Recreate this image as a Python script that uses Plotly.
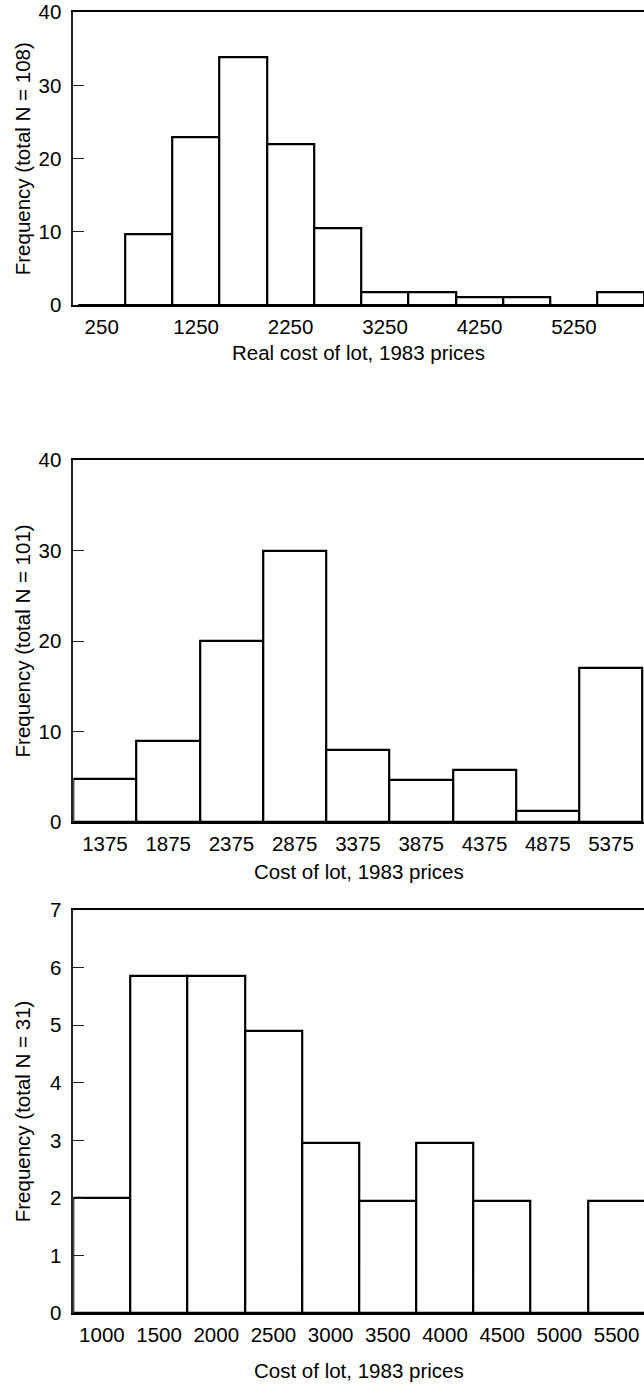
import plotly.graph_objects as go

# ---- data ----
p1_bins = [250, 750, 1250, 1750, 2250, 2750, 3250, 3750, 4250, 4750, 5250, 5750]
p1_freq = [0, 9.7, 22.9, 33.8, 22, 10.5, 1.7, 1.7, 1.0, 1.0, 0, 1.7]
p1_ticks = [250, 1250, 2250, 3250, 4250, 5250]

p2_bins = [1375, 1875, 2375, 2875, 3375, 3875, 4375, 4875, 5375]
p2_freq = [4.7, 9, 20, 30, 8, 4.6, 5.8, 1.2, 17]
p2_ticks = [1375, 1875, 2375, 2875, 3375, 3875, 4375, 4875, 5375]

p3_bins = [1000, 1500, 2000, 2500, 3000, 3500, 4000, 4500, 5000, 5500]
p3_freq = [2, 5.85, 5.85, 4.9, 2.95, 1.95, 2.95, 1.95, 0, 1.95]
p3_ticks = [1000, 1500, 2000, 2500, 3000, 3500, 4000, 4500, 5000, 5500]

titles_x = ["Real cost of lot, 1983 prices", "Cost of lot, 1983 prices", "Cost of lot, 1983 prices"]
titles_y = ["Frequency (total N = 108)", "Frequency (total N = 101)", "Frequency (total N = 31)"]

W, H = 644, 1387
FONT = "Liberation Sans, Arial, Helvetica, sans-serif"
FS = 20.5

# panel geometry in pixels (top, bottom)
panels = [
    dict(top=12.3, bottom=305, xr=[-51, 5992], yr=[0, 40], dt=10, bins=p1_bins, freq=p1_freq, ticks=p1_ticks,
         xt_y=352, yt_x=22.6),
    dict(top=460, bottom=822, xr=[1125, 5636], yr=[0, 40], dt=10, bins=p2_bins, freq=p2_freq, ticks=p2_ticks,
         xt_y=871.7, yt_x=23.4),
    dict(top=910, bottom=1313.3, xr=[750, 5740], yr=[0, 7], dt=1, bins=p3_bins, freq=p3_freq, ticks=p3_ticks,
         xt_y=1370, yt_x=22.6),
]

x0 = 73.3 / W
fig = go.Figure()
annotations = []
for i, p in enumerate(panels):
    n = "" if i == 0 else str(i + 1)
    fig.add_trace(go.Bar(
        x=p["bins"], y=p["freq"], width=500,
        marker=dict(color="white", line=dict(color="black", width=2.2)),
        xaxis="x" + n, yaxis="y" + n, showlegend=False, hoverinfo="skip",
    ))
    dom = [1 - p["bottom"] / H, 1 - p["top"] / H]
    fig.update_layout({
        "xaxis" + n: dict(
            domain=[x0, 1], range=p["xr"], anchor="y" + n, automargin=False,
            tickmode="array", tickvals=p["ticks"], ticktext=[str(t) for t in p["ticks"]],
            ticks="", showgrid=False, zeroline=False,
            showline=True, linecolor="black", linewidth=2.2, mirror=True,
            tickfont=dict(family=FONT, size=FS, color="black"),
            ticklabelstandoff=2,
        ),
        "yaxis" + n: dict(
            domain=dom, range=p["yr"], anchor="x" + n, dtick=p["dt"], automargin=False,
            ticks="inside", ticklen=11, tickwidth=1.3, tickcolor="#222",
            showgrid=False, zeroline=False,
            showline=True, linecolor="#222", linewidth=1.6,
            tickfont=dict(family=FONT, size=FS, color="black"),
            ticklabelstandoff=6,
        ),
    })
    annotations.append(dict(
        text=titles_x[i], xref="paper", yref="paper",
        x=(73.3 + W) / 2 / W, y=1 - p["xt_y"] / H,
        xanchor="center", yanchor="middle", showarrow=False,
        font=dict(family=FONT, size=FS, color="black"),
    ))
    annotations.append(dict(
        text=titles_y[i], xref="paper", yref="paper", textangle=-90,
        x=p["yt_x"] / W, y=1 - (p["top"] + p["bottom"]) / 2 / H,
        xanchor="center", yanchor="middle", showarrow=False,
        font=dict(family=FONT, size=FS, color="black"),
    ))

fig.update_layout(
    width=W, height=H, margin=dict(l=0, r=0, t=0, b=0, autoexpand=False),
    paper_bgcolor="white", plot_bgcolor="white",
    barmode="overlay", bargap=0,
    annotations=annotations,
)

fig.write_html(
    "out.html",
    config={"displayModeBar": False},
    post_script="document.body.style.margin='0';document.body.style.overflow='hidden';",
)
